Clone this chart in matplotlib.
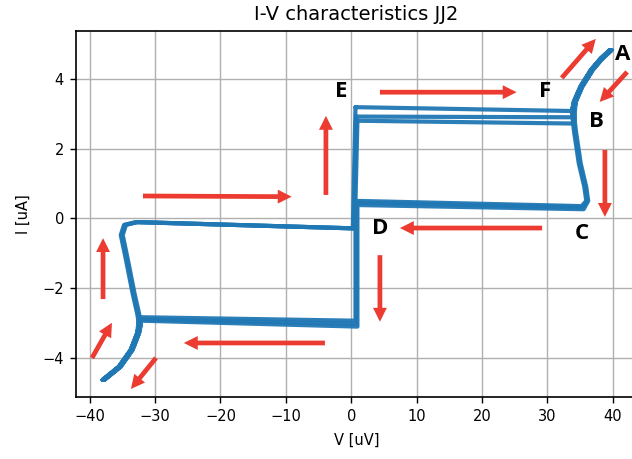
import matplotlib
matplotlib.use('Agg')
import matplotlib.pyplot as plt

# ---------------- data ----------------
# switching / retrapping levels for each of the three sweeps
ic_top_left = [3.19, 2.92, 2.80]     # I at V~0 when jumping to the right branch
ic_top_right = [3.08, 2.90, 2.72]    # I where the jump lands near V~34
ir_bot_right = [0.35, 0.31, 0.26]    # I where right branch retraps
ir_bot_left = [0.50, 0.45, 0.38]     # I at V~0 after retrapping
ic_neg_right = [-2.94, -3.03, -3.11] # I at V~0 when jumping to the left branch
ic_neg_left = [-2.84, -2.90, -2.94]  # I where the jump lands near V~-32
sweep_shift = [-0.15, 0.0, 0.15]     # small voltage offset between sweeps

# positive resistive branch (upper part, up to point A)
up_curve_V = [33.9, 34.2, 35.2, 36.8, 38.3, 39.7]
up_curve_I = [3.06, 3.35, 3.78, 4.26, 4.59, 4.83]
# positive resistive branch (lower part, B -> C)
right_branch_V = [34.2, 34.95, 35.8, 36.1, 35.4]
right_branch_I = [2.53, 1.58, 0.90, 0.50]
# negative resistive branch (lower part)
down_curve_V = [-32.3, -32.6, -33.6, -35.4, -37.9]
down_curve_I = [-3.05, -3.30, -3.78, -4.26, -4.64]
# negative resistive branch (upper part)
left_branch_V = [-32.6, -33.3, -34.3, -35.1, -34.6, -32.8]
left_branch_I = [-2.73, -2.15, -1.20, -0.48, -0.19, -0.11]
zero_V = 0.8
zero_V_low = 0.4
zero_low_I = -0.29

# annotation arrows (tail -> head)
arrow_x0 = [4.39, -3.87, 38.8, 29.2, 4.39, -4.02, -31.85, -37.96, -39.65, -29.86, 32.2, 42.2]
arrow_y0 = [3.62, 0.67, 1.96, -0.28, -1.06, -3.58, 0.64, -2.32, -4.01, -4.01, 4.03, 4.20]
arrow_x1 = [25.3, -3.87, 38.8, 7.45, 4.39, -25.6, -9.11, -37.96, -36.6, -33.7, 37.4, 38.0]
arrow_y1 = [3.62, 2.94, 0.04, -0.28, -2.97, -3.58, 0.62, -0.57, -3.00, -4.90, 5.15, 3.34]

# point labels
letter_text = ['A', 'B', 'C', 'D', 'E', 'F']
letter_x = [40.4, 37.5, 35.2, 4.39, -1.47, 29.6]
letter_y = [4.69, 2.77, -0.43, -0.29, 3.63, 3.63]

x_ticks = [-40, -30, -20, -10, 0, 10, 20, 30, 40]
y_ticks = [-4, -2, 0, 2, 4]

# ---------------- figure ----------------
BLUE = '#1f77b4'
RED = '#ec3b30'

fig = plt.figure(figsize=(6.32, 4.59), dpi=100)
ax = fig.add_axes([0.1198, 0.1344, 0.888, 0.798])

for k in range(3):
    s = sweep_shift[k]
    V = ([zero_V, up_curve_V[0]] + up_curve_V[1:] + up_curve_V[::-1][1:]
         + right_branch_V + [zero_V, zero_V] + [down_curve_V[0]] + down_curve_V[1:]
         + down_curve_V[::-1][1:] + left_branch_V + [zero_V_low, zero_V])
    I = ([ic_top_left[k], ic_top_right[k]] + up_curve_I[1:] + up_curve_I[::-1][1:]
         + right_branch_I + [ir_bot_right[k], ir_bot_left[k], ic_neg_right[k]]
         + [ic_neg_left[k]] + down_curve_I[1:] + down_curve_I[::-1][1:]
         + left_branch_I + [zero_low_I, ic_top_left[k]])
    V = [v + s for v in V]
    ax.plot(V, I, color=BLUE, lw=3.0, solid_joinstyle='round',
            solid_capstyle='round', alpha=0.95, zorder=3)

for x0, y0, x1, y1 in zip(arrow_x0, arrow_y0, arrow_x1, arrow_y1):
    ax.annotate('', xy=(x1, y1), xytext=(x0, y0),
                arrowprops=dict(arrowstyle='simple,head_length=1.0,head_width=1.0,tail_width=0.34',
                                mutation_scale=10, color=RED, lw=0,
                                shrinkA=0, shrinkB=0), zorder=4)

for t, x, y in zip(letter_text, letter_x, letter_y):
    ha = 'left' if t == 'A' else 'center'
    ax.text(x, y, t, fontsize=16, fontweight='bold', family=['Open Sans', 'DejaVu Sans'],
            ha=ha, va='center', color='black', zorder=5, clip_on=False)

ax.set_xlim(-42.14, 43.7)
ax.set_ylim(-5.14, 5.376)
ax.set_xticks(x_ticks)
ax.set_yticks(y_ticks)
ax.grid(True, color='#b0b0b0', lw=1.0)
ax.set_axisbelow(True)
ax.tick_params(labelsize=10.5, length=4.2, pad=4.3, width=1.0)
for sp in ax.spines.values():
    sp.set_linewidth(1.2)
ax.set_xlabel('V [uV]', fontsize=10.5, labelpad=6)
ax.set_ylabel('I [uA]', fontsize=10.5, labelpad=8)
ax.set_title('I-V characteristics JJ2', fontsize=14, pad=8)

fig.savefig('out.png', dpi=100)
